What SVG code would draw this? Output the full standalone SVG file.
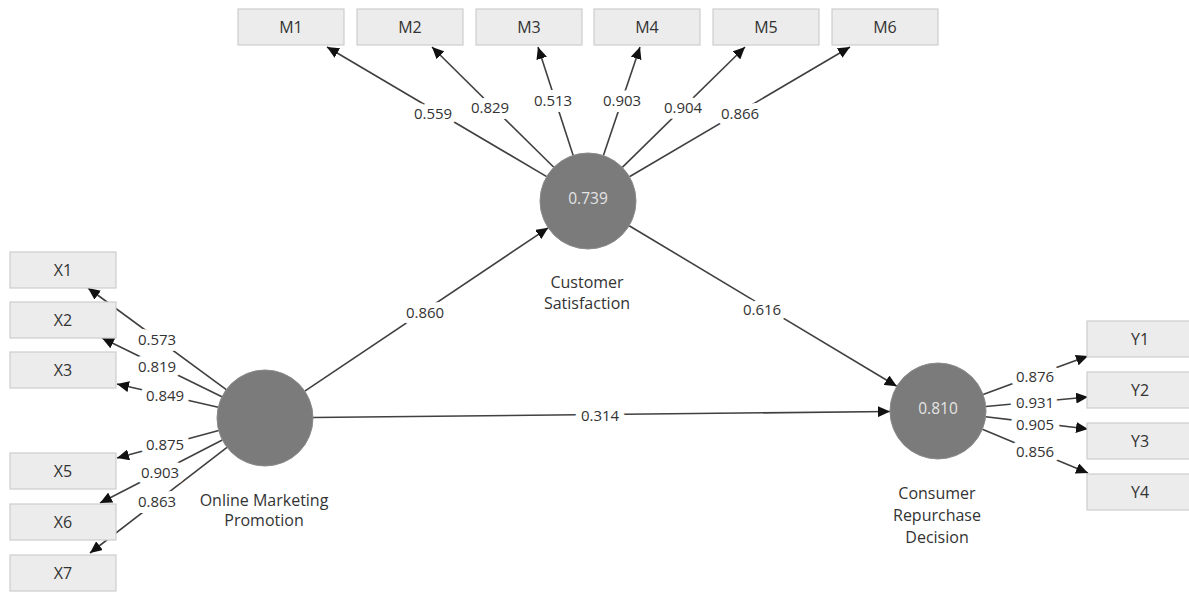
<svg xmlns="http://www.w3.org/2000/svg" width="1189" height="592" viewBox="0 0 1189 592">
<style>
text{font-family:"Open Sans","Liberation Sans",sans-serif;font-size:15px;text-anchor:middle;dominant-baseline:central}
.box{fill:#ececec;stroke:#cdcdcd;stroke-width:1.2}
.lv{fill:#7b7b7b;stroke:#8a8a8a;stroke-width:1}
.bt{fill:#333;font-size:16px}
.cv{fill:#e4e4e4;font-size:15.5px}
.nm{fill:#333;font-size:16px}
.ln{stroke:#404040;stroke-width:1.6;fill:none;marker-end:url(#ah)}
.lb{fill:#333;stroke:#fff;stroke-width:12;stroke-linejoin:round;paint-order:stroke}
</style>
<defs>
<marker id="ah" markerUnits="userSpaceOnUse" markerWidth="13" markerHeight="11" refX="12" refY="5.5" orient="auto">
<path d="M0,0 L12,5.5 L0,11 z" fill="#111"/>
</marker>
</defs>
<rect width="1189" height="592" fill="#fff"/>
<g id="connectors">
<line class="ln" x1="546.7" y1="176.6" x2="327" y2="47"/>
<line class="ln" x1="553.8" y1="167.3" x2="432" y2="47"/>
<line class="ln" x1="573.2" y1="155.4" x2="538" y2="47"/>
<line class="ln" x1="603.4" y1="155.5" x2="640" y2="47"/>
<line class="ln" x1="622.3" y1="167.4" x2="745" y2="47"/>
<line class="ln" x1="629.4" y1="176.7" x2="850" y2="47"/>
<line class="ln" x1="226.3" y1="389.6" x2="88" y2="288"/>
<line class="ln" x1="221.9" y1="396.8" x2="102" y2="338"/>
<line class="ln" x1="218.2" y1="407.3" x2="117" y2="384"/>
<line class="ln" x1="218.7" y1="430.5" x2="117" y2="458"/>
<line class="ln" x1="222.3" y1="440.0" x2="100" y2="503"/>
<line class="ln" x1="227.0" y1="447.3" x2="90" y2="553"/>
<line class="ln" x1="983.1" y1="394.5" x2="1088" y2="356"/>
<line class="ln" x1="985.8" y1="406.5" x2="1088" y2="397"/>
<line class="ln" x1="985.7" y1="416.7" x2="1088" y2="429"/>
<line class="ln" x1="982.4" y1="429.3" x2="1088" y2="473"/>
<line class="ln" x1="304.8" y1="391.2" x2="548.2" y2="227.8"/>
<line class="ln" x1="313" y1="417.5" x2="890" y2="411.5"/>
<line class="ln" x1="629.2" y1="225.7" x2="896.8" y2="386.3"/>
<text class="lb" x="433" y="113">0.559</text>
<text class="lb" x="490" y="107">0.829</text>
<text class="lb" x="553" y="100">0.513</text>
<text class="lb" x="622" y="100">0.903</text>
<text class="lb" x="683" y="107">0.904</text>
<text class="lb" x="740" y="113">0.866</text>
<text class="lb" x="157" y="339">0.573</text>
<text class="lb" x="157" y="366">0.819</text>
<text class="lb" x="165" y="395">0.849</text>
<text class="lb" x="165" y="444">0.875</text>
<text class="lb" x="160" y="472">0.903</text>
<text class="lb" x="157" y="501">0.863</text>
<text class="lb" x="1035" y="376">0.876</text>
<text class="lb" x="1035" y="402">0.931</text>
<text class="lb" x="1035" y="424">0.905</text>
<text class="lb" x="1035" y="451">0.856</text>
<text class="lb" x="425" y="312">0.860</text>
<text class="lb" x="600" y="415">0.314</text>
<text class="lb" x="762" y="309">0.616</text>
</g>
<g id="M1"><rect class="box" x="238" y="9" width="106" height="36"/><text class="bt" x="291" y="27">M1</text></g>
<g id="M2"><rect class="box" x="357" y="9" width="106" height="36"/><text class="bt" x="410" y="27">M2</text></g>
<g id="M3"><rect class="box" x="476" y="9" width="106" height="36"/><text class="bt" x="529" y="27">M3</text></g>
<g id="M4"><rect class="box" x="594" y="9" width="106" height="36"/><text class="bt" x="647" y="27">M4</text></g>
<g id="M5"><rect class="box" x="713" y="9" width="106" height="36"/><text class="bt" x="766" y="27">M5</text></g>
<g id="M6"><rect class="box" x="832" y="9" width="106" height="36"/><text class="bt" x="885" y="27">M6</text></g>
<g id="X1"><rect class="box" x="10" y="252" width="106" height="36"/><text class="bt" x="63" y="270">X1</text></g>
<g id="X2"><rect class="box" x="10" y="302" width="106" height="36"/><text class="bt" x="63" y="320">X2</text></g>
<g id="X3"><rect class="box" x="10" y="352" width="106" height="36"/><text class="bt" x="63" y="370">X3</text></g>
<g id="X5"><rect class="box" x="10" y="453" width="106" height="36"/><text class="bt" x="63" y="471">X5</text></g>
<g id="X6"><rect class="box" x="10" y="504" width="106" height="36"/><text class="bt" x="63" y="522">X6</text></g>
<g id="X7"><rect class="box" x="10" y="555" width="106" height="36"/><text class="bt" x="63" y="573">X7</text></g>
<g id="Y1"><rect class="box" x="1087" y="321" width="106" height="36"/><text class="bt" x="1140" y="339">Y1</text></g>
<g id="Y2"><rect class="box" x="1087" y="372" width="106" height="36"/><text class="bt" x="1140" y="390">Y2</text></g>
<g id="Y3"><rect class="box" x="1087" y="423" width="106" height="36"/><text class="bt" x="1140" y="441">Y3</text></g>
<g id="Y4"><rect class="box" x="1087" y="474" width="106" height="36"/><text class="bt" x="1140" y="492">Y4</text></g>
<g id="CS"><circle class="lv" cx="588" cy="201" r="48"/><text class="cv" x="588" y="198">0.739</text><text class="nm" x="587" y="282">Customer</text><text class="nm" x="587" y="303">Satisfaction</text></g>
<g id="OMP"><circle class="lv" cx="265" cy="418" r="48"/><text class="nm" x="264" y="500">Online Marketing</text><text class="nm" x="264" y="520">Promotion</text></g>
<g id="CRD"><circle class="lv" cx="938" cy="411" r="48"/><text class="cv" x="938" y="408">0.810</text><text class="nm" x="937" y="493">Consumer</text><text class="nm" x="937" y="515">Repurchase</text><text class="nm" x="937" y="537">Decision</text></g>
</svg>
